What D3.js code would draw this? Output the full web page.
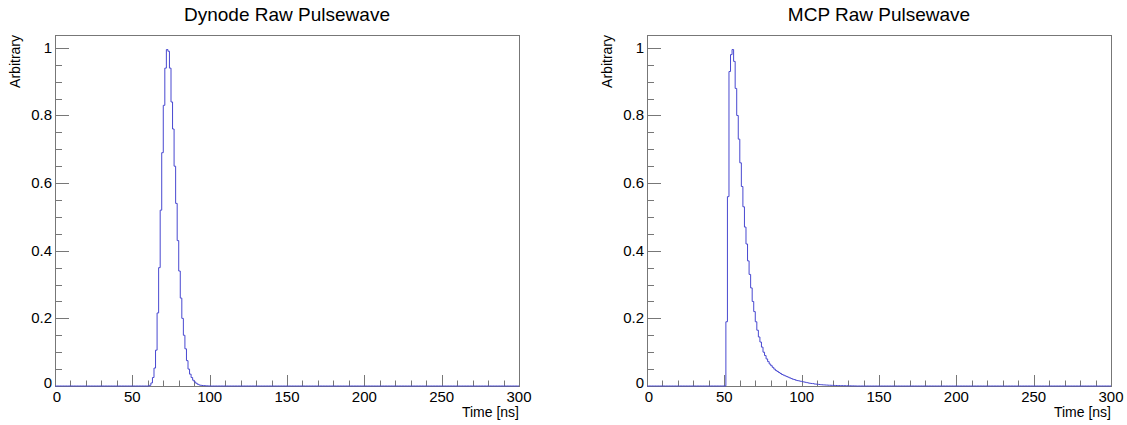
<!DOCTYPE html>
<html>
<head>
<meta charset="utf-8">
<script src="https://cdn.jsdelivr.net/npm/d3@7"></script>
<style>
  body { margin: 0; background: #fff; }
  svg { display: block; font-family: 'Liberation Sans', Arial, sans-serif; }
</style>
</head>
<body>
<svg id="chart" width="1127" height="425"></svg>
<script>
// histograms, 1 ns bins, values start at the given ns
var dynodeStart = 60
var dynodeValues = [
  0, 0.002, 0.009, 0.025, 0.053, 0.106, 0.216, 0.35, 0.52, 0.69,
  0.83, 0.94, 0.995, 0.99, 0.94, 0.84, 0.76, 0.65, 0.54, 0.43,
  0.34, 0.26, 0.2, 0.15, 0.11, 0.075, 0.05, 0.035, 0.025, 0.017,
  0.012, 0.008, 0.005, 0.003, 0.002, 0.0015, 0.001, 0.0007, 0.0004, 0.0002
]

var mcpStart = 50
var mcpValues = [
  0, 0.19, 0.56, 0.93, 0.98, 0.995, 0.96, 0.88, 0.8, 0.73,
  0.66, 0.59, 0.53, 0.47, 0.42, 0.37, 0.33, 0.29, 0.25, 0.22,
  0.19, 0.165, 0.145, 0.13, 0.115, 0.1, 0.09, 0.08, 0.072, 0.065,
  0.06, 0.055, 0.05, 0.046, 0.043, 0.04, 0.037, 0.034, 0.032, 0.03,
  0.028, 0.026, 0.024, 0.022, 0.02, 0.019, 0.017, 0.016, 0.015, 0.014,
  0.013, 0.012, 0.011, 0.01, 0.009, 0.008, 0.0075, 0.007, 0.006, 0.0055,
  0.005, 0.0045, 0.004, 0.0036, 0.0032, 0.003, 0.0027, 0.0024, 0.0022, 0.002,
  0.0018, 0.0016, 0.0015, 0.0013, 0.0012, 0.0011, 0.001, 0.0009, 0.0008, 0.0007,
  0.0006, 0.0005, 0.0004, 0.0003, 0.0002
]

var xTicks = [0, 50, 100, 150, 200, 250, 300]
var yTicks = [0, 0.2, 0.4, 0.6, 0.8, 1]

var svg = d3.select('#chart')

function drawPanel (left, title, start, values) {
  var frame = {x0: left, x1: left + 464, y0: 35, y1: 386}
  var w = frame.x1 - frame.x0
  var h = frame.y1 - frame.y0

  var x = d3.scaleLinear().domain([0, 300]).range([frame.x0, frame.x1])
  var y = d3.scaleLinear().domain([0, 1.038]).range([frame.y1, frame.y0])

  // full histogram over 0..300 ns, zero outside the stored bins
  var bins = []
  for (var t = 0; t < 300; t++) {
    var i = t - start
    bins.push({t: t, v: (i >= 0 && i < values.length) ? values[i] : 0})
  }
  bins.push({t: 300, v: 0})

  var g = svg.append('g')

  g.append('rect')
    .attr('x', frame.x0 + 0.5)
    .attr('y', frame.y0 + 0.5)
    .attr('width', w)
    .attr('height', h)
    .attr('fill', 'none')
    .attr('stroke', '#777')

  // x ticks inside the frame
  var xMinor = d3.range(0, 301, 10)
  g.selectAll('.xt').data(xMinor).enter().append('line')
    .attr('x1', function (d) { return Math.round(x(d)) + 0.5 })
    .attr('x2', function (d) { return Math.round(x(d)) + 0.5 })
    .attr('y1', frame.y1)
    .attr('y2', function (d) { return frame.y1 - (d % 50 === 0 ? 11 : 5.5) })
    .attr('stroke', '#777')

  var yMinor = d3.range(0, 1.001, 0.05)
  g.selectAll('.yt').data(yMinor).enter().append('line')
    .attr('y1', function (d) { return Math.round(y(d)) + 0.5 })
    .attr('y2', function (d) { return Math.round(y(d)) + 0.5 })
    .attr('x1', frame.x0)
    .attr('x2', function (d) { return frame.x0 + (Math.round(d * 20) % 4 === 0 ? 14 : 7) })
    .attr('stroke', '#777')

  var line = d3.line()
    .x(function (d) { return x(d.t) })
    .y(function (d) { return y(d.v) })
    .curve(d3.curveStepAfter)

  g.append('path')
    .datum(bins)
    .attr('d', line)
    .attr('fill', 'none')
    .attr('stroke', '#4848d0')
    .attr('stroke-width', 1)

  g.selectAll('.xl').data(xTicks).enter().append('text')
    .attr('x', function (d) { return x(d) + (d === 0 ? 2 : 0) })
    .attr('y', frame.y1 + 16)
    .attr('text-anchor', 'middle')
    .attr('font-size', 15)
    .text(function (d) { return d })

  g.selectAll('.yl').data(yTicks).enter().append('text')
    .attr('x', frame.x0 - 3)
    .attr('y', function (d) { return y(d) + (d === 0 ? 2 : 5) })
    .attr('text-anchor', 'end')
    .attr('font-size', 15)
    .text(function (d) { return d })

  g.append('text')
    .attr('x', frame.x1)
    .attr('y', frame.y1 + 31)
    .attr('text-anchor', 'end')
    .attr('font-size', 14)
    .text('Time [ns]')

  g.append('text')
    .attr('transform', 'translate(' + (frame.x0 - 35) + ',' + frame.y0 + ') rotate(-90)')
    .attr('text-anchor', 'end')
    .attr('font-size', 14)
    .text('Arbitrary')

  g.append('text')
    .attr('x', (frame.x0 + frame.x1) / 2)
    .attr('y', 21)
    .attr('text-anchor', 'middle')
    .attr('font-size', 19)
    .text(title)
}

drawPanel(55, 'Dynode Raw Pulsewave', dynodeStart, dynodeValues)
drawPanel(647, 'MCP Raw Pulsewave', mcpStart, mcpValues)
</script>
</body>
</html>
